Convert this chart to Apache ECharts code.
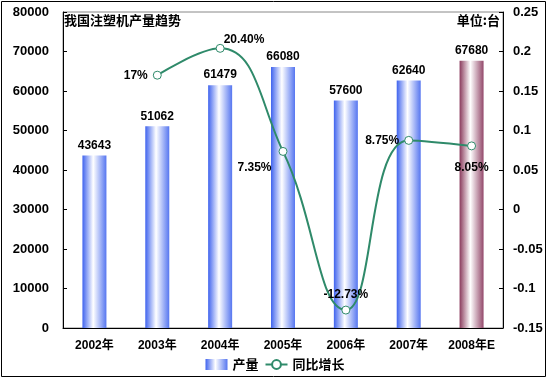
<!DOCTYPE html>
<html><head><meta charset="utf-8">
<script src="https://cdn.jsdelivr.net/npm/echarts@6/dist/echarts.min.js"></script>
<style>html,body{margin:0;padding:0;background:#fff}#c{width:550px;height:380px}</style>
</head><body><div id="c"></div>
<script>
const categories = ['2002年','2003年','2004年','2005年','2006年','2007年','2008年E'];
const production = [43643, 51062, 61479, 66080, 57600, 62640, 67680];
const growth = [null, 0.17, 0.204, 0.0735, -0.1273, 0.0875, 0.0805];
const growthLabels = ['', '17%', '20.40%', '7.35%', '-12.73%', '8.75%', '8.05%'];
const growthLabelPos = ['top', 'left', 'right', 'left', 'top', 'left', 'bottom'];
const growthLabelOffset = [[0,0],[0,0],[-6,-9],[-2,16],[0,0],[0,0],[0,6]];
const title = '我国注塑机产量趋势';
const unit = '单位:台';

const fontFam = 'Liberation Sans, Arial, Noto Sans CJK SC, sans-serif';
const blueGrad = new echarts.graphic.LinearGradient(0,0,1,0,[
  {offset:0,color:'#3f63ee'},{offset:0.45,color:'#ffffff'},{offset:1,color:'#5676f0'}]);
const redGrad = new echarts.graphic.LinearGradient(0,0,1,0,[
  {offset:0,color:'#8a3a5c'},{offset:0.45,color:'#ffffff'},{offset:1,color:'#93486a'}]);

const chart = echarts.init(document.getElementById('c'), null, {renderer:'canvas'});
chart.setOption({
  animation:false,
  backgroundColor:'#fff',
  graphic:[
    {type:'rect', shape:{x:1.5,y:1.5,width:544,height:375}, style:{fill:'none',stroke:'#000',lineWidth:1}, z:-1},
    {type:'text', left:64, top:14, style:{text:title, font:'bold 13px "Noto Sans CJK SC", sans-serif', fill:'#000'}},
    {type:'text', right:50, top:14, style:{text:unit, font:'bold 13px "Noto Sans CJK SC", sans-serif', fill:'#000'}}
  ],
  grid:{left:63, right:47, top:12, bottom:52, show:true, borderColor:'#888', borderWidth:1},
  legend:{
    bottom:4, left:'center', itemWidth:22, itemHeight:11, itemGap:6,
    textStyle:{fontFamily:'"Noto Sans CJK SC", sans-serif', fontWeight:'bold', fontSize:13, color:'#000'},
    data:[{name:'产量', icon:'rect'}, {name:'同比增长'}]
  },
  xAxis:{
    type:'category', data:categories,
    axisLine:{lineStyle:{color:'#000'}},
    axisTick:{inside:true, length:5, lineStyle:{color:'#000'}},
    axisLabel:{margin:12, fontFamily:'Liberation Sans, "Noto Sans CJK SC", sans-serif', fontWeight:'bold', fontSize:12, color:'#000'}
  },
  yAxis:[
    {type:'value', min:0, max:80000, interval:10000,
     axisLine:{show:true, lineStyle:{color:'#000'}},
     axisTick:{show:true, inside:true, length:4, lineStyle:{color:'#000'}},
     splitLine:{show:false},
     axisLabel:{margin:14, fontFamily:fontFam, fontWeight:'bold', fontSize:13, color:'#000',
       formatter:v=>String(v)}},
    {type:'value', min:-0.15, max:0.25, interval:0.05, position:'right',
     axisLine:{show:true, lineStyle:{color:'#000'}},
     axisTick:{show:true, inside:true, length:4, lineStyle:{color:'#000'}},
     splitLine:{show:false},
     axisLabel:{margin:10, fontFamily:fontFam, fontWeight:'bold', fontSize:13, color:'#000',
       formatter:v=>{const r=Math.round(v*100)/100; return String(r);}}}
  ],
  series:[
    {name:'产量', type:'bar', barWidth:24,
     data: production.map((v,i)=>({value:v, itemStyle:{color: i===production.length-1?redGrad:blueGrad}})),
     itemStyle:{color:blueGrad},
     label:{show:true, position:'top', distance:4, fontFamily:fontFam, fontWeight:'bold', fontSize:12, color:'#000'}},
    {name:'同比增长', type:'line', yAxisIndex:1, smooth:0.45,
     data: growth.map((v,i)=>({value:v, label:{position:growthLabelPos[i], offset:growthLabelOffset[i]}})),
     symbol:'circle', symbolSize:8,
     lineStyle:{color:'#2f8a6a', width:2},
     itemStyle:{color:'#fff', borderColor:'#2f8a6a', borderWidth:1},
     label:{show:true, fontFamily:fontFam, fontWeight:'bold', fontSize:12, color:'#000', distance:5,
       formatter:p=>growthLabels[p.dataIndex]}}
  ]
});
</script></body></html>
